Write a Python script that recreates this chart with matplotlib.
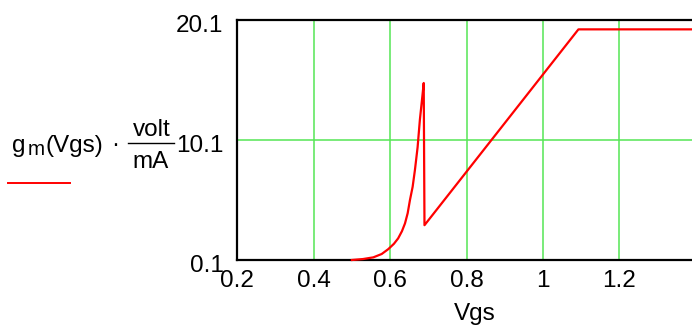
import matplotlib
matplotlib.use("Agg")
import matplotlib.pyplot as plt
from matplotlib.lines import Line2D
from matplotlib.transforms import ScaledTranslation

# Data
vgs = [0.500, 0.529, 0.556, 0.578, 0.595, 0.610, 0.621, 0.631, 0.639, 0.646,
       0.652, 0.659, 0.665, 0.672, 0.678, 0.684, 0.688, 0.690, 1.093, 1.400]
gm = [0.10, 0.18, 0.32, 0.60, 1.00, 1.45, 1.90, 2.50, 3.15, 4.00,
      5.10, 6.20, 7.60, 9.50, 11.80, 13.60, 14.85, 3.00, 19.32, 19.32]

xticks = [0.2, 0.4, 0.6, 0.8, 1.0, 1.2]
xtick_labels = ["0.2", "0.4", "0.6", "0.8", "1", "1.2"]
yticks = [0.1, 10.1, 20.1]
ytick_labels = ["0.1", "10.1", "20.1"]

plt.rcParams['font.family'] = ['Liberation Sans', 'DejaVu Sans']

W, H = 692, 325
FS = 17.5
fig = plt.figure(figsize=(W / 100, H / 100), dpi=100)
ax = fig.add_axes([237.3 / W, (H - 260) / H, (695.7 - 237.3) / W, 240 / H])

ax.plot(vgs, gm, color='#ff0000', lw=1.6, zorder=3, clip_on=False)

ax.set_xlim(0.2, 1.4)
ax.set_ylim(0.1, 20.1)
ax.set_xticks(xticks)
ax.set_xticklabels(xtick_labels)
ax.set_yticks(yticks)
ax.set_yticklabels(ytick_labels)
ax.tick_params(axis='x', length=0, labelsize=FS, pad=7.5)
ax.tick_params(axis='y', length=0, labelsize=FS, pad=10)
off = ScaledTranslation(0, -3.5 / 100, fig.dpi_scale_trans)
for lab in ax.get_yticklabels():
    lab.set_transform(lab.get_transform() + off)

for x in xticks[1:]:
    ax.axvline(x, color='#55e655', lw=1.1, zorder=1)
ax.axhline(10.1, color='#55e655', lw=1.1, zorder=1)

for s in ['left', 'top', 'bottom']:
    ax.spines[s].set_color('black')
    ax.spines[s].set_linewidth(1.6)
ax.spines['right'].set_visible(False)


def fx(x):
    return x / W


def fy(y):
    return 1 - y / H


fig.text(fx(475), fy(314), "Vgs", ha='center', va='center', fontsize=FS)

# y-axis label: gm(Vgs) . volt/mA
fig.text(fx(12), fy(152), "g", ha='left', va='baseline', fontsize=FS)
fig.text(fx(28), fy(155), "m", ha='left', va='baseline', fontsize=FS * 0.85)
fig.text(fx(46), fy(152), "(Vgs)", ha='left', va='baseline', fontsize=FS)
fig.text(fx(115), fy(145), "\u00b7", ha='center', va='center', fontsize=FS)
fig.text(fx(152), fy(136), "volt", ha='center', va='baseline', fontsize=FS)
fig.text(fx(151), fy(168), "mA", ha='center', va='baseline', fontsize=FS)
fig.add_artist(Line2D([fx(128), fx(174)], [fy(143), fy(143)],
                      color='black', lw=1.0, transform=fig.transFigure))

fig.add_artist(Line2D([fx(8), fx(70)], [fy(183), fy(183)],
                      color='#ff0000', lw=1.4, transform=fig.transFigure))

fig.savefig("out.png", dpi=100)
